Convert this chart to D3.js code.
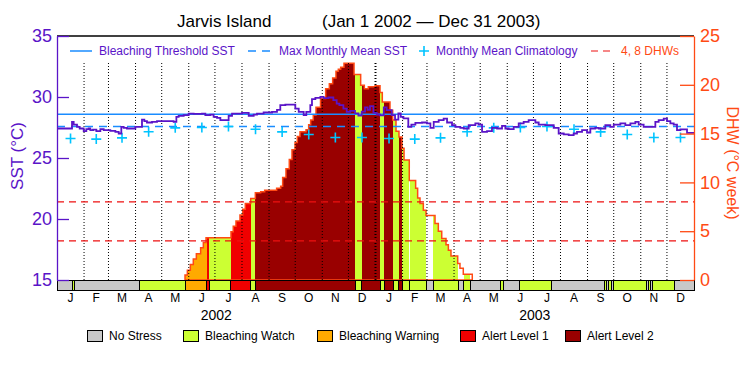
<!DOCTYPE html>
<html>
<head>
<meta charset="utf-8">
<script src="https://cdn.jsdelivr.net/npm/d3@7"></script>
<style>
  body { margin: 0; background: #fff; }
  svg { display: block; font-family: "Liberation Sans", Arial, sans-serif; }
</style>
</head>
<body>
<svg id="chart" width="750" height="375"></svg>
<script>
// ---- data (days counted from Jan 1 2002) ----
const sstDay = [0, 17.2, 19.1, 22.9, 26, 30.6, 33.6, 36.3, 38.2, 41.3, 45.1, 49.7, 53.5, 61.1, 66.9, 70.7, 73.7, 76.4, 80.2, 89.8,
  97.4, 100.1, 103.1, 108.9, 114.6, 133.7, 136.8, 139.4, 145.2, 150.9, 156.6, 166.2, 170, 175.7, 179.5, 183.4, 187.2, 196.7, 200.6, 212,
  219.7, 225.4, 229.2, 236.8, 246.4, 252.1, 255.9, 261.7, 273.1, 277, 282.7, 285.7, 290.3, 292.2, 296.1, 301.8, 305.6, 311, 316.7, 320.5,
  323.6, 328.2, 332, 336, 341.5, 345.4, 349.2, 353, 356, 358.7, 362.6, 366.4, 370.2, 374.5, 377.8, 383.6, 387.4, 391.2, 393.9, 397,
  402.6, 406.1, 410.7, 418.3, 424, 427.9, 431.7, 437.4, 443.1, 447, 452.7, 456.5, 462.2, 466.1, 471.8, 479.4, 483.2, 487.1, 492.8, 498.5,
  504.3, 510, 513.8, 517.6, 523.4, 529.1, 534.8, 540.5, 548.2, 552, 559.6, 569.2, 574.9, 580.7, 586.4, 592.1, 595.9, 601.7, 607.4, 611.2,
  616.9, 620.8, 628.4, 634.1, 638, 645.6, 651.3, 657.1, 662.8, 666.6, 672.3, 685.7, 689.5, 695.3, 699.1, 702.9, 706.7, 710.5, 714.4, 722];
const sst = [27.42, 27.96, 27.74, 27.55, 27.42, 27.20, 27.36, 27.42, 27.28, 27.33, 27.20, 27.36, 27.28, 27.23, 27.14, 27.01, 27.55, 27.47, 27.42, 27.55,
  28.15, 28.02, 27.91, 27.96, 28.02, 27.96, 28.37, 28.45, 28.51, 28.64, 28.62, 28.64, 28.51, 28.56, 28.37, 28.29, 28.10, 28.45, 28.64, 28.70,
  28.45, 28.56, 28.64, 28.73, 28.78, 28.94, 29.33, 29.38, 29.05, 28.78, 28.51, 28.78, 29.33, 29.82, 29.93, 30.01, 29.90, 29.96, 29.74, 29.46,
  29.33, 29.05, 28.78, 28.86, 28.65, 28.48, 28.80, 29.15, 28.95, 29.25, 28.70, 28.55, 28.50, 29.15, 28.92, 28.51, 28.15, 28.65, 28.37, 28.24,
  27.55, 27.74, 27.88, 27.91, 27.83, 27.47, 27.96, 28.10, 28.23, 27.91, 27.69, 27.55, 27.47, 27.42, 27.69, 27.83, 27.74, 27.14, 27.20, 27.47,
  27.42, 27.63, 27.42, 27.36, 27.55, 27.83, 27.96, 28.10, 27.91, 27.74, 27.69, 27.47, 27.01, 26.93, 26.87, 27.01, 27.14, 27.28, 27.09, 27.42,
  27.47, 27.42, 27.69, 27.55, 27.74, 27.83, 27.69, 27.83, 27.96, 27.74, 27.55, 27.96, 28.10, 28.23, 28.02, 27.83, 27.74, 27.28, 27.34, 27.06];

// monthly mean climatology, Jan..Dec
const climatology = [26.6, 26.55, 26.65, 27.15, 27.47, 27.5, 27.58, 27.36, 27.14, 26.93, 26.68, 26.68];

const dhwDay = [146.7, 149.4, 152.8, 156.2, 159.7, 164.6, 167.7, 170.8, 199.4, 202, 205.1, 209.7, 212.8, 215.8, 222, 227.3, 233.4, 238, 251.7, 256.3,
  258.6, 262.4, 266.2, 269.3, 272.8, 275.4, 278.5, 285.4, 288.4, 290.7, 293.7, 296.8, 302, 307.9, 312.1, 315.9, 319.7, 322.4, 325.1, 328.9,
  340.4, 348, 352.2, 356.8, 364.5, 370.2, 372.8, 381.6, 384.7, 388.5, 391.9, 395.4, 397.7, 403.7, 411, 413.3, 416, 419.8, 422.9, 433.2,
  437, 440.9, 445.8, 448.5, 451.5, 459.2, 461.8, 465.6, 475.9];
const dhw = [0.5, 1.0, 1.6, 2.15, 2.7, 3.3, 3.85, 4.33, 4.95, 5.5, 6.05, 6.65, 7.25, 7.85, 8.35, 8.95, 9.05, 9.2, 9.4, 9.6,
  10.5, 11.4, 12.35, 13.35, 14.1, 14.7, 15.2, 15.4, 15.9, 16.4, 16.9, 17.7, 18.6, 19.6, 20.1, 20.7, 21.4, 21.6, 21.8, 22.2,
  21.05, 19.95, 19.6, 19.8, 19.9, 19.2, 18.25, 17.4, 16.4, 15.25, 14.65, 13.5, 12.3, 10.2, 9.4, 8.4, 7.85, 7.15, 6.6, 5.8,
  5.0, 4.25, 3.6, 3.05, 2.45, 1.7, 1.2, 0.6, 0];

// stress level: 0 no stress, 1 watch, 2 warning, 3 alert 1, 4 alert 2
const stressStart = [0, 17.5, 19.8, 94.3, 146.7, 171.6, 174.5, 199.4, 222, 227.1, 341.8, 349.2, 370.2, 375.1, 385.4, 391.9, 395.7, 403.7, 404.4, 423.3,
  431.2, 459.9, 466.4, 473.3, 507.7, 511.5, 529.8, 566.9, 627.2, 629.7, 632, 635.4, 637.7, 675, 677.3, 679.6, 681.9, 707.6];
const stressLevel = [0, 1, 0, 1, 2, 3, 1, 3, 1, 4, 1, 4, 1, 4, 1, 4, 1, 0, 1, 0,
  1, 0, 1, 0, 1, 0, 1, 0, 1, 0, 1, 0, 1, 0, 1, 0, 1, 0];

const stressNames = ["No Stress", "Bleaching Watch", "Bleaching Warning", "Alert Level 1", "Alert Level 2"];
const stressColors = ["#c8c8c8", "#ccff33", "#ffaa00", "#f00000", "#990000"];
const dhwLevels = [4, 8];
const sstTicks = [15, 20, 25, 30, 35];
const dhwTicks = [0, 5, 10, 15, 20, 25];

// ---- layout ----
const purple = "#5a14c8", orange = "#ff4a14", blue = "#1a8cff", cyan = "#00c4ff";
const L = 57, R = 694, T = 36, B = 280, barH = 10;
const START = Date.UTC(2002, 0, 1);
const day = d => new Date(START + d * 864e5);

const svg = d3.select("#chart");
svg.append("rect").attr("width", 750).attr("height", 375).attr("fill", "#fff");

const x = d3.scaleUtc().domain([day(0), day(730)]).range([L, R]);
const ySST = d3.scaleLinear().domain([15, 35]).range([B, T]);
const yDHW = d3.scaleLinear().domain([0, 25]).range([B, T]);

const segs = stressStart.map((s, i) => ({ s, e: i + 1 < stressStart.length ? stressStart[i + 1] : 730, lv: stressLevel[i] }));

// DHW area filled with stress colours
const dhwPts = dhwDay.map((d, i) => [d, dhw[i]]);
const area = d3.area().curve(d3.curveStepAfter)
  .x(d => x(day(d[0]))).y0(yDHW(0)).y1(d => yDHW(d[1]));

svg.append("clipPath").attr("id", "dhwClip").append("path").attr("d", area(dhwPts));

svg.append("g").attr("clip-path", "url(#dhwClip)")
  .selectAll("rect").data(segs.filter(d => d.lv > 0)).join("rect")
  .attr("x", d => x(day(d.s))).attr("width", d => x(day(d.e)) - x(day(d.s)))
  .attr("y", T).attr("height", B - T)
  .attr("fill", d => stressColors[d.lv]).attr("shape-rendering", "crispEdges");

svg.append("path").attr("d", area(dhwPts))
  .attr("fill", "none").attr("stroke", orange).attr("stroke-width", 1.5);

// month grid (dotted)
const months = d3.utcMonth.range(day(0), day(730));
svg.append("g").selectAll("line").data(months.slice(1)).join("line")
  .attr("x1", d => x(d)).attr("x2", d => x(d))
  .attr("y1", 63).attr("y2", B)
  .attr("stroke", "#000").attr("stroke-dasharray", "1,2")
  .attr("stroke-width", d => d.getUTCMonth() === 0 ? 2 : 1);

// 4 and 8 DHW reference lines
svg.append("g").selectAll("line").data(dhwLevels).join("line")
  .attr("x1", L).attr("x2", R)
  .attr("y1", d => yDHW(d)).attr("y2", d => yDHW(d))
  .attr("stroke", "#ee1111").attr("stroke-width", 1.2).attr("stroke-dasharray", "7,5");

// MMM and bleaching threshold
const mmm = d3.max(climatology);
svg.append("line").attr("x1", L).attr("x2", R)
  .attr("y1", ySST(mmm)).attr("y2", ySST(mmm))
  .attr("stroke", blue).attr("stroke-width", 1.5).attr("stroke-dasharray", "8,6");
svg.append("line").attr("x1", L).attr("x2", R)
  .attr("y1", ySST(mmm + 1)).attr("y2", ySST(mmm + 1))
  .attr("stroke", blue).attr("stroke-width", 1.5);

// climatology crosses at mid-month
const climPts = months.map(m => {
  const next = d3.utcMonth.offset(m, 1);
  return { t: new Date((+m + +next) / 2), v: climatology[m.getUTCMonth()] };
});
svg.append("g").selectAll("path").data(climPts).join("path")
  .attr("transform", d => `translate(${x(d.t)},${ySST(d.v)})`)
  .attr("d", "M-5,0H5M0,-5V5")
  .attr("stroke", cyan).attr("stroke-width", 1.6).attr("fill", "none");

// SST line
const sstPts = sstDay.map((d, i) => [d, sst[i]]).concat([[730, sst[sst.length - 1]]]);
svg.append("path")
  .attr("d", d3.line().curve(d3.curveStepAfter).x(d => x(day(d[0]))).y(d => ySST(d[1]))(sstPts))
  .attr("fill", "none").attr("stroke", purple).attr("stroke-width", 1.8);

// stress bar
svg.append("g").selectAll("rect").data(segs).join("rect")
  .attr("x", d => x(day(d.s))).attr("width", d => x(day(d.e)) - x(day(d.s)))
  .attr("y", B).attr("height", barH)
  .attr("fill", d => stressColors[d.lv])
  .attr("stroke", "#000").attr("stroke-width", 1).attr("shape-rendering", "crispEdges");

// top border
svg.append("line").attr("x1", L).attr("x2", R).attr("y1", T).attr("y2", T)
  .attr("stroke", "#000").attr("stroke-width", 1.5);

// left axis
const gl = svg.append("g").attr("transform", `translate(${L},0)`);
gl.call(d3.axisLeft(ySST).tickValues(d3.range(15, 36)).tickSize(-6).tickFormat(""));
gl.call(d3.axisLeft(ySST).tickValues(sstTicks).tickSizeInner(-12).tickSizeOuter(0).tickPadding(5));
gl.selectAll("path,line").attr("stroke", purple).attr("stroke-width", 1.3);
gl.selectAll("text").attr("fill", purple).attr("font-size", 18).attr("font-family", "Liberation Sans, Arial, sans-serif");

// right axis
const gr = svg.append("g").attr("transform", `translate(${R},0)`);
gr.call(d3.axisRight(yDHW).tickValues(d3.range(0, 26)).tickSize(-7).tickFormat(""));
gr.call(d3.axisRight(yDHW).tickValues(dhwTicks).tickSizeInner(-14).tickSizeOuter(0).tickPadding(6));
gr.selectAll("path,line").attr("stroke", orange).attr("stroke-width", 1.3);
gr.selectAll("text").attr("fill", orange).attr("font-size", 18).attr("font-family", "Liberation Sans, Arial, sans-serif");

// axis titles
svg.append("text").attr("transform", "translate(23,156) rotate(-90)")
  .attr("text-anchor", "middle").attr("fill", purple).attr("font-size", 17).text("SST (°C)");
svg.append("text").attr("transform", "translate(727,163) rotate(90)")
  .attr("text-anchor", "middle").attr("fill", orange).attr("font-size", 16).text("DHW (°C week)");

// month and year labels
svg.append("g").selectAll("text").data(climPts).join("text")
  .attr("x", d => x(d.t)).attr("y", 302).attr("text-anchor", "middle")
  .attr("font-size", 12).text(d => d3.utcFormat("%b")(d.t)[0]);
const years = d3.utcYear.range(day(0), day(730));
svg.append("g").selectAll("text").data(years).join("text")
  .attr("x", d => x(new Date((+d + +d3.utcYear.offset(d, 1)) / 2))).attr("y", 320)
  .attr("text-anchor", "middle").attr("font-size", 14).text(d => d.getUTCFullYear());

// title
svg.append("text").attr("x", 177).attr("y", 27).attr("font-size", 17).text("Jarvis Island");
svg.append("text").attr("x", 322).attr("y", 27).attr("font-size", 17).text("(Jan 1 2002 \u2014 Dec 31 2003)");

// top legend
const tl = svg.append("g").attr("font-size", 12);
tl.append("line").attr("x1", 70).attr("x2", 92).attr("y1", 51).attr("y2", 51).attr("stroke", blue).attr("stroke-width", 1.5);
tl.append("text").attr("x", 99).attr("y", 55).attr("fill", purple).text("Bleaching Threshold SST");
tl.append("line").attr("x1", 248).attr("x2", 272).attr("y1", 51).attr("y2", 51).attr("stroke", blue)
  .attr("stroke-width", 1.5).attr("stroke-dasharray", "8,6");
tl.append("text").attr("x", 279).attr("y", 55).attr("fill", purple).text("Max Monthly Mean SST");
tl.append("path").attr("transform", "translate(424,51)").attr("d", "M-5,0H5M0,-5V5")
  .attr("stroke", cyan).attr("stroke-width", 1.6);
tl.append("text").attr("x", 436).attr("y", 55).attr("fill", purple).text("Monthly Mean Climatology");
tl.append("line").attr("x1", 591).attr("x2", 615).attr("y1", 51).attr("y2", 51).attr("stroke", "#ee1111")
  .attr("stroke-width", 1.2).attr("stroke-dasharray", "7,5");
tl.append("text").attr("x", 621).attr("y", 55).attr("fill", orange).text("4, 8 DHWs");

// bottom legend
const legX = [87, 183, 317, 460, 565];
const bl = svg.append("g").selectAll("g").data(stressNames).join("g")
  .attr("transform", (d, i) => `translate(${legX[i]},330)`);
bl.append("rect").attr("width", 15).attr("height", 11)
  .attr("fill", (d, i) => stressColors[i]).attr("stroke", "#000").attr("shape-rendering", "crispEdges");
bl.append("text").attr("x", 22).attr("y", 10).attr("font-size", 12).text(d => d);
</script>
</body>
</html>
